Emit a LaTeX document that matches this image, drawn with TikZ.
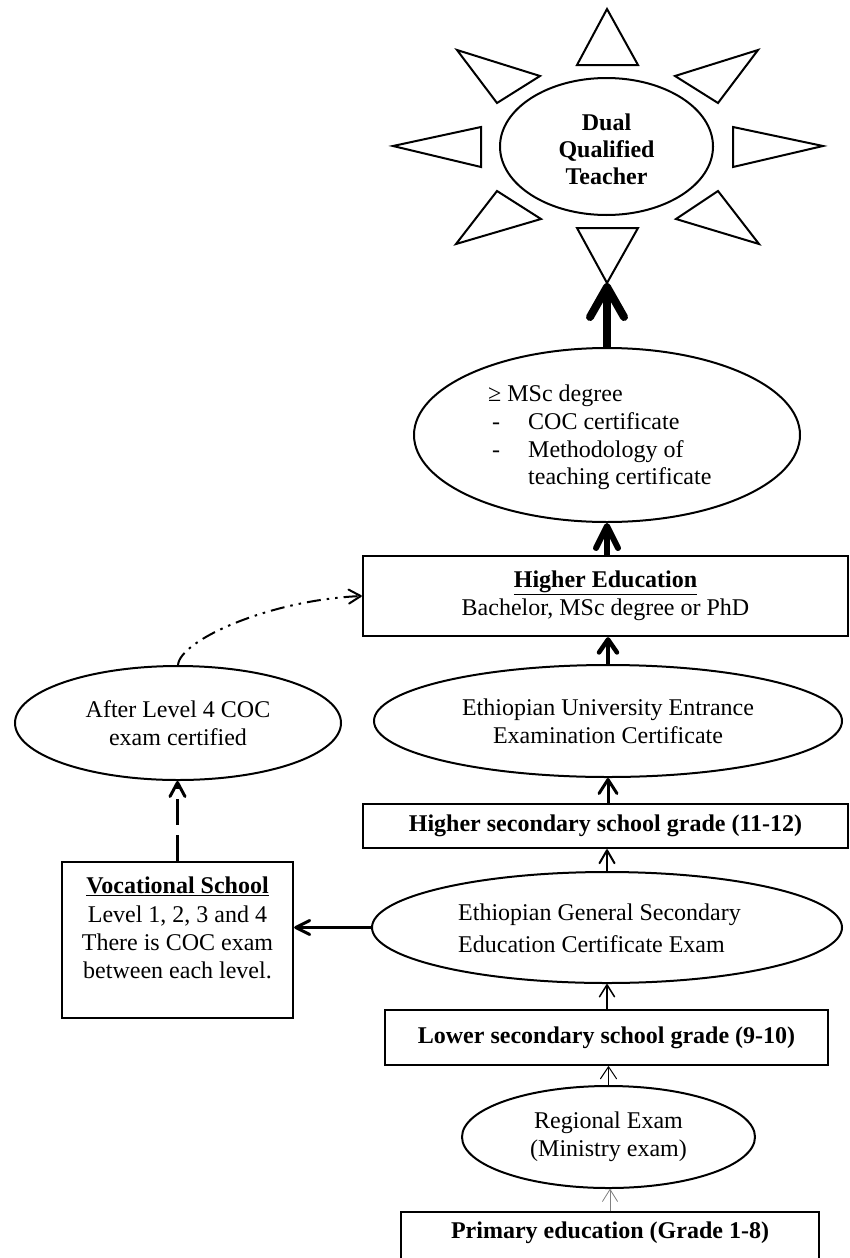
\documentclass[tikz,border=0pt]{standalone}
\usepackage{fontspec}
\setmainfont{Liberation Serif}
\usetikzlibrary{shapes.geometric,arrows.meta}
\begin{document}
\begin{tikzpicture}[x=1pt,y=-1pt,
  every node/.style={font=\fontsize{24}{27.6}\selectfont},
  boldtext/.style={font=\fontsize{24}{27.6}\selectfont\bfseries},
  box/.style={draw, line width=2.4pt, inner sep=0pt, align=center},
  oval/.style={draw, ellipse, line width=2pt, inner sep=0pt, align=center},
  txt/.style={inner sep=0pt},
  ray/.style={draw, line width=2pt, line join=miter},
  flow/.style n args={3}{line width=#1pt, -{Straight Barb[length=#2pt,width=#3pt,round]}},
  dashdotdot/.style={dash pattern=on 14pt off 6pt on 2.5pt off 6pt on 2.5pt off 6pt},
]
\useasboundingbox (0,0) rectangle (849,1258);

% sun
\node[oval, minimum width=213pt, minimum height=137pt] (sun) at (606.5,146.5) {};
\node[txt, align=center, font=\fontsize{24}{27}\selectfont\bfseries] (suntext) at (606.5,149) {Dual\\Qualified\\Teacher};
\draw[ray] (607,9) -- (638,65) -- (577,65) -- cycle;
\draw[ray] (577,228) -- (638,228) -- (607,283) -- cycle;
\draw[ray] (393,146) -- (481,127) -- (481,167) -- cycle;
\draw[ray] (823,146) -- (733,127) -- (733,167) -- cycle;
\draw[ray] (457,50) -- (540,76) -- (497,103) -- cycle;
\draw[ray] (758,50) -- (675,76) -- (718,103) -- cycle;
\draw[ray] (497,191) -- (541,219) -- (456,244) -- cycle;
\draw[ray] (718,191) -- (676,219) -- (759,244) -- cycle;
\coordinate (sunbase) at (607,283);

% MSc
\node[oval, minimum width=386pt, minimum height=174pt] (msc) at (607,435) {};
\node[txt, align=left, anchor=west] (msctext) at (488,437.5)
  {≥ MSc degree\\
   \hspace*{4pt}\makebox[36pt][l]{-}COC certificate\\
   \hspace*{4pt}\makebox[36pt][l]{-}Methodology of\\
   \hspace*{40pt}teaching certificate};

% Higher education
\node[box, minimum width=485pt, minimum height=80pt] (he) at (605.5,596)
  {\textbf{\underline{Higher Education}}\\Bachelor, MSc degree or PhD};

% EUEE
\node[oval, minimum width=468pt, minimum height=112pt] (euee) at (608,721)
  {Ethiopian University Entrance\\Examination Certificate};

% Higher secondary
\node[box, boldtext, minimum width=485pt, minimum height=44pt] (hsec) at (605.5,826)
  {Higher secondary school grade (11-12)};

% EGSECE
\node[oval, minimum width=470pt, minimum height=111pt] (egsece) at (607,927.5) {};
\node[txt, align=left, anchor=west, font=\fontsize{24}{32}\selectfont] (egtext) at (458,928.5)
  {Ethiopian General Secondary\\Education Certificate Exam};

% Lower secondary
\node[box, boldtext, minimum width=443pt, minimum height=55pt] (lsec) at (606.5,1037.5)
  {Lower secondary school grade (9-10)};

% Regional
\node[oval, minimum width=293pt, minimum height=102pt] (reg) at (608.5,1137)
  {Regional Exam\\(Ministry exam)};

% Primary
\node[box, anchor=north, minimum width=418pt, minimum height=70pt] (prim) at (610,1211) {};
\node[txt, boldtext] (primtext) at (610,1233) {Primary education (Grade 1-8)};

% After level 4
\node[oval, minimum width=326pt, minimum height=114pt] (after) at (178,723)
  {After Level 4 COC\\exam certified};

% Vocational
\node[box, minimum width=231pt, minimum height=156pt] (voc) at (177.5,940) {};
\node[txt, align=center, anchor=north, font=\fontsize{24}{28.3}\selectfont] (voctext) at (177.5,877)
  {\textbf{\underline{Vocational School}}\\Level 1, 2, 3 and 4\\There is COC exam\\between each level.};

% connectors
\draw[flow={8}{30}{34}] (msc.north) -- (sunbase);
\draw[flow={6}{22}{22}] (he.north -| msc.south) -- (msc.south);
\draw[flow={4.5}{13}{18}] (euee.north) -- (euee.north |- he.south);
\draw[flow={3}{14}{18}] (euee.south |- hsec.north) -- (euee.south);
\draw[flow={2}{13}{15}] (egsece.north) -- (egsece.north |- hsec.south);
\draw[flow={1.5}{12}{15}] (lsec.north -| egsece.south) -- (egsece.south);
\draw[flow={1}{12}{16}] (reg.north) -- (reg.north |- lsec.south);
\draw[flow={0.8}{12}{15}, gray] (prim.north) -- (prim.north |- reg.south);
\draw[flow={3}{14}{14}] (egsece.west) -- (egsece.west -| voc.east);
\draw[flow={3}{14}{15}, dash pattern=on 26pt off 10pt] (voc.north) -- (voc.north |- after.south);
\draw[flow={2}{12}{14}, dashdotdot] (after.north) .. controls (180,640) and (270,600) .. (he.west);
\end{tikzpicture}
\end{document}
